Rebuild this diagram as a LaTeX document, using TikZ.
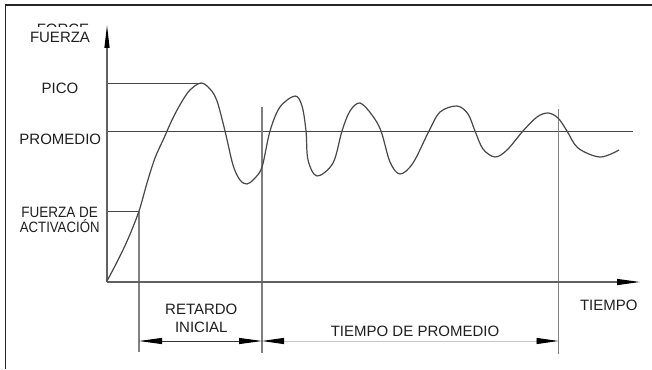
\documentclass[tikz,border=0pt]{standalone}
\usepackage{fontspec}
\setmainfont{Liberation Sans}
\usetikzlibrary{arrows.meta}
\begin{document}
\begin{tikzpicture}[x=1pt,y=-1pt,
  lbl/.style={font=\fontsize{15}{17}\selectfont, inner sep=0pt, anchor=base, text=black!88},
  axisline/.style={draw=black!62, line width=1.1pt},
  guide/.style={draw=black!72, line width=0.9pt},
  vguide/.style={draw=black!50, line width=1.4pt},
  curveline/.style={draw=black!72, line width=1.2pt},
  frameline/.style={draw=black!85, line width=1.5pt},
  axtip/.style={-{Triangle[length=23pt,width=5pt,color=black]}},
  dimdark/.style={draw=black!80, line width=0.9pt, {Triangle[length=23pt,width=6pt,color=black]}-{Triangle[length=23pt,width=6pt,color=black]}},
  dimlight/.style={draw=black!22, line width=0.9pt, {Triangle[length=22pt,width=6pt,color=black]}-{Triangle[length=22pt,width=6pt,color=black]}}
]
\useasboundingbox (0,0) rectangle (652,369);
\fill[white] (0,0) rectangle (652,369);

% frame (top and left edges)
\coordinate (FBL) at (5.5,369);
\coordinate (FTL) at (5.5,5);
\coordinate (FTR) at (652,5);
\draw[frameline] (FBL) -- (FTL) -- (FTR);

% key coordinates
\coordinate (O) at (107,282);
\coordinate (Ytip) at (107,25);
\coordinate (Xtip) at (640,282);
\coordinate (PicoL) at (107,83);
\coordinate (PicoR) at (201,83);
\coordinate (PromL) at (107,131.3);
\coordinate (PromR) at (633,131.3);
\coordinate (ActL) at (107,211);
\coordinate (ActR) at (139,211);
\coordinate (V1b) at (139,352);
\coordinate (V2t) at (262,107);
\coordinate (V2b) at (262,353);
\coordinate (V3t) at (558.5,109);
\coordinate (V3b) at (558.5,354);
\coordinate (D1) at (139,341);
\coordinate (D2) at (262,341);
\coordinate (D3) at (558.5,341);

% ghost text (cut off at the top)
\begin{scope}
\clip (20,22) rectangle (100,26.3);
\node[lbl] (force) at (63,34.7) {FORCE};
\end{scope}

% guide lines
\draw[guide] (PicoL) -- (PicoR);
\draw[guide] (PromL) -- (PromR);
\draw[guide] (ActL) -- (ActR);
\draw[vguide] (ActR) -- (V1b);
\draw[vguide] (V2t) -- (V2b);
\draw[vguide] (V3t) -- (V3b);

% axes
\draw[axisline, axtip] (O) -- (Ytip);
\draw[axisline, -{Triangle[length=23pt,width=6pt,color=black]}] (O) -- (Xtip);

% curve
\draw[curveline] plot[smooth, tension=0.55] coordinates {
(107,281) (117,262) (128,239) (139,211) (147,183) (155,158) (164,138) (172,120)
(181,103) (190,90) (201,83) (210,89) (217,101) (225,131) (233,165) (240,180)
(247,184) (254,179) (262,167) (270,131) (280,107) (295,96) (302,106)
(306,131) (308,160) (317,176) (333,163) (342,131)
(350,111) (360,103) (372,115) (381,131) (390,162) (400,174) (413,163)
(429,131) (440,112) (457,106) (468,114) (475,131)
(483,149) (495,157) (507,150) (523,131) (537,117) (548,113) (558,118) (567,131)
(578,148) (600,157) (619,150)};

% dimension lines
\draw[dimdark] (D1) -- (D2);
\draw[dimlight] (D2) -- (D3);

% labels
\node[lbl, fill=white, inner ysep=1pt] (fuerza) at (60,43) {FUERZA};
\node[lbl] (pico) at (60,93.3) {PICO};
\node[lbl] (promedio) at (60.3,144.3) {PROMEDIO};
\node[lbl] (fdeact1) at (59.7,217.3) {\scalebox{0.9}[1]{FUERZA DE}};
\node[lbl] (fdeact2) at (59.7,232.7) {\scalebox{0.88}[1]{ACTIVACIÓN}};
\node[lbl] (retardo) at (201.3,314) {RETARDO};
\node[lbl] (inicial) at (201.3,332.7) {INICIAL};
\node[lbl] (tprom) at (415,336.7) {TIEMPO DE PROMEDIO};
\node[lbl] (tiempo) at (608.8,310) {TIEMPO};
\end{tikzpicture}
\end{document}
